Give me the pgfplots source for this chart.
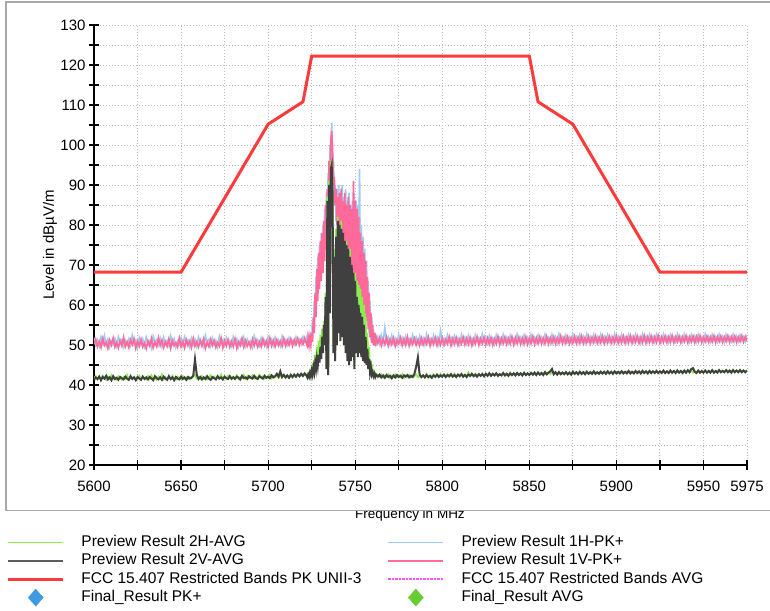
\documentclass[border=0pt]{standalone}
\usepackage{pgfplots}
\pgfplotsset{compat=1.18}
\usepackage{pgfplotstable}
\usepackage{fontspec}
\setmainfont{Liberation Sans}
\definecolor{cgreen}{HTML}{88F048}
\definecolor{cblack}{HTML}{404040}
\definecolor{cblue}{HTML}{9DCBF7}
\definecolor{cpink}{HTML}{FF6A9A}
\definecolor{cred}{HTML}{FF3A3A}
\definecolor{cmag}{HTML}{FF55FF}
\definecolor{dblue}{HTML}{3F9AE0}
\definecolor{dgreen}{HTML}{66CC33}
\definecolor{cgrid}{HTML}{BDBDBD}
\definecolor{cframe}{HTML}{A8A8A8}

\pgfplotstableread{
f g k b p
5600 41.6 41.3 51.8 50.2
5601 42.2 41.9 50.1 51.4
5602 41.4 41.5 51.2 49.6
5603 42.0 42.1 49.7 50.9
5604 41.5 41.2 51.9 49.4
5605 42.3 42.0 50.4 51.6
5606 41.7 41.6 52.3 49.9
5607 41.3 42.3 50.0 50.7
5608 42.1 41.4 51.4 49.2
5609 41.6 41.9 49.5 51.2
5610 42.4 41.2 51.0 50.0
5611 41.5 42.2 50.3 51.7
5612 41.9 41.5 51.6 49.5
5613 41.4 41.8 49.8 50.6
5614 42.2 41.3 52.0 49.3
5615 41.7 42.0 50.5 51.1
5616 41.3 41.7 51.3 49.8
5617 42.0 41.4 49.6 51.9
5618 41.6 42.1 51.1 49.6
5619 42.5 41.6 50.2 50.8
5620 41.4 41.3 51.5 49.4
5621 41.9 42.2 49.9 51.3
5622 41.6 41.5 52.4 50.1
5623 42.1 41.9 50.6 51.5
5624 41.3 41.2 51.2 49.2
5625 41.8 42.0 49.4 50.9
5626 42.3 41.6 51.7 49.7
5627 41.5 41.3 50.1 51.4
5628 42.0 42.1 51.4 49.5
5629 41.7 41.5 49.7 50.5
5630 41.4 41.9 51.9 49.1
5631 42.2 41.4 50.4 51.0
5632 41.6 42.0 51.0 49.8
5633 42.4 41.6 49.3 51.6
5634 41.5 41.2 52.1 49.3
5635 41.9 42.2 50.7 50.7
5636 41.3 41.7 51.3 49.6
5637 42.1 41.4 50.0 51.8
5638 41.7 41.9 51.6 49.9
5639 42.6 41.3 49.6 51.2
5640 41.4 42.1 51.8 49.4
5641 42.0 41.6 50.3 50.8
5642 41.6 41.3 51.1 49.7
5643 41.9 42.2 49.8 51.5
5644 41.5 41.5 52.2 49.2
5645 42.3 41.9 50.5 51.1
5646 41.7 41.2 51.5 49.8
5647 41.3 42.0 49.5 50.6
5648 42.1 41.6 51.0 49.5
5649 41.8 41.4 50.2 51.7
5650 41.5 42.1 51.7 49.6
5651 42.2 41.5 49.9 50.9
5652 41.6 41.9 52.0 49.3
5653 41.9 41.3 50.6 51.3
5654 41.4 42.0 51.2 49.9
5655 42.0 41.6 49.4 51.0
5656 41.7 41.8 51.6 49.4
5657 42.3 42.3 50.1 51.6
5658 42.5 46.4 51.3 49.7
5659 41.6 42.6 49.7 50.8
5660 41.9 41.5 51.9 49.5
5661 41.5 42.0 50.4 51.2
5662 42.2 41.4 51.0 49.8
5663 41.6 41.9 49.6 51.5
5664 42.0 41.5 52.3 49.2
5665 41.4 42.2 50.7 50.7
5666 41.9 41.6 51.4 49.6
5667 42.4 41.3 49.8 51.4
5668 41.6 42.0 51.7 49.9
5669 42.1 41.7 50.2 51.1
5670 41.5 41.4 51.1 49.4
5671 42.0 42.2 49.5 50.6
5672 41.7 41.6 52.1 49.7
5673 42.6 41.9 50.5 51.7
5674 41.5 41.4 51.3 49.3
5675 41.9 42.1 49.9 51.0
5676 41.6 41.7 51.8 49.8
5677 42.3 41.5 50.3 51.3
5678 41.8 42.2 51.0 49.5
5679 41.4 41.6 49.7 50.9
5680 42.1 41.9 52.0 49.6
5681 41.7 41.5 50.6 51.5
5682 42.4 42.1 51.5 49.2
5683 41.5 41.8 49.6 50.8
5684 42.0 41.4 51.2 49.9
5685 41.8 42.3 50.1 51.6
5686 42.5 41.7 51.9 49.5
5687 41.6 41.9 49.8 51.1
5688 42.2 41.5 51.4 49.7
5689 41.7 42.2 50.4 50.7
5690 41.9 41.8 51.0 49.4
5691 42.4 41.6 49.5 51.4
5692 41.6 42.3 52.2 49.8
5693 42.1 41.7 50.7 51.2
5694 41.8 41.5 51.3 49.5
5695 42.5 42.2 49.9 50.8
5696 41.7 41.9 51.7 49.6
5697 42.2 41.6 50.2 51.5
5698 41.6 42.3 51.1 49.9
5699 42.0 41.8 49.7 51.0
5700 41.8 42.1 52.0 49.5
5701 42.6 41.7 50.5 51.7
5702 41.7 42.4 51.4 49.8
5703 42.2 41.9 49.9 51.1
5704 41.9 42.2 51.8 49.6
5705 42.4 42.8 50.3 51.3
5706 41.8 42.1 51.2 49.9
5707 42.3 43.4 49.8 51.0
5708 41.9 42.0 52.1 49.7
5709 42.6 42.5 50.6 51.6
5710 41.8 41.9 51.3 49.8
5711 42.3 42.4 50.0 51.2
5712 41.9 41.8 51.7 50.0
5713 42.7 42.5 50.4 51.5
5714 41.9 42.0 51.1 49.8
5715 42.4 42.6 50.2 51.3
5716 42.0 42.1 51.9 50.1
5717 42.6 42.7 50.7 51.6
5718 42.1 42.2 51.4 50.0
5719 42.5 42.8 50.3 51.4
5720 42.2 42.3 52.0 50.2
5721 42.8 42.9 50.8 51.7
5722 42.3 42.4 51.5 50.3
5722.5 42.1 41.9 52.4 49.8
5723 42.8 42.6 50.2 51.8
5723.5 42.2 42.0 52.6 50.0
5724 43.3 43.0 50.5 52.0
5724.5 42.4 42.2 53.2 50.2
5725 44.0 43.6 51.0 52.8
5725.5 42.8 42.6 56 50.8
5726 45.5 44.5 53 57
5726.5 43.6 43.2 61 53
5727 47.5 45.5 57 63
5727.5 45 44.0 67 57
5728 49.5 46.5 61 69
5728.5 46.5 44.8 72 61
5729 51 47.5 64 73
5729.5 47.5 45.6 75 64
5730 52.5 49.5 66 76
5730.5 48.5 46.5 78 66
5731 54 52 68 78
5731.5 49.5 48 80 68
5732 56 55 71 81
5732.5 51 50 84 71
5733 63 62 75 85
5733.5 45 44 88 76
5734 87 86 81 89
5734.5 43 42.5 93 82
5735 91 90 87 96
5735.5 60 58 100 88
5736 95 94 92 101
5736.5 96.3 95 105.6 103.5
5737 89 88 91 99
5737.5 49 48 96 90
5738 74 72 85 92
5738.5 47 46 90 85
5739 79 77 81 89
5739.5 51 50 89 80
5740 82 81 77 87
5740.5 55 53 90 76
5741 75 80 75 88
5741.5 52 51 88 74
5742 81 79 76 89
5742.5 53 52 90 75
5743 77 78 73 86
5743.5 51 50 87 72
5744 74 76 74 88
5744.5 49 48 89 73
5745 76 75 71 85
5745.5 47 46 86 70
5746 72 74 72 87
5746.5 46 45 88 71
5747 74 72 70 85
5747.5 47 46 85 69
5748 69 70 69 84
5748.5 48 47 86 68
5749 67 68 68 91
5749.5 45 44 88 67
5750 68 66 67 86
5750.5 49 48 86 66
5751 66 62 66 84
5751.5 49 47 85 65
5752 65 60 64 82
5752.5 50 48 94 63
5753 64 58 63 78
5753.5 49 47 80 62
5754 62 57 61 76
5754.5 48 46 77 60
5755 60 55 59 73
5755.5 47 45.5 74 58
5756 57 52 57 71
5756.5 46 45 71 56
5757 53 49 55 67
5757.5 45 44 66 54
5758 49.5 46.5 53 63
5758.5 44 43.2 61 52
5759 46 44.5 51 58
5759.5 43 42.6 57 50.5
5760 44 43.2 50.5 55
5760.5 42.5 42.2 54 50
5761 43.2 42.8 50 53
5761.5 42.2 42.0 52.5 49.8
5762 42.8 42.6 50.3 52
5763 42.5 42.1 51.9 50.4
5764 42.0 42.6 50.3 51.8
5765 42.6 41.9 52.4 49.9
5766 41.9 42.4 50.6 51.5
5767 42.4 41.8 54.2 50.2
5768 42.1 42.5 50.8 51.9
5769 42.7 42.0 51.9 49.8
5770 41.8 42.3 50.2 51.4
5771 42.3 41.7 52.3 50.1
5772 42.0 42.4 50.5 51.7
5773 42.6 41.9 51.6 49.7
5774 41.9 42.5 50.1 51.3
5775 42.4 42.0 52.5 50.3
5776 42.1 42.3 50.7 51.8
5777 42.7 41.8 51.8 49.9
5778 41.8 42.4 50.3 51.5
5779 42.3 42.1 52.1 50.0
5780 42.0 42.5 50.6 52.0
5781 42.5 41.9 51.5 49.8
5782 41.9 42.3 50.2 51.4
5783 42.4 42.0 52.4 50.2
5784 42.2 42.8 50.8 51.6
5785 42.6 44.5 51.9 50.0
5786 42.0 46.9 50.4 51.3
5787 42.3 42.6 52.2 49.9
5788 41.9 42.0 50.5 51.7
5789 42.5 42.4 51.7 50.1
5790 42.1 41.9 50.1 51.5
5791 42.7 42.5 52.6 50.3
5792 41.8 42.0 50.7 51.9
5793 42.4 42.3 51.6 49.8
5794 42.0 41.8 50.3 51.4
5795 42.6 42.4 52.3 50.2
5796 41.9 42.1 50.6 51.8
5797 42.3 42.6 51.9 49.9
5798 42.1 42.0 50.2 51.5
5799 42.8 42.4 53.5 50.1
5800 42.0 42.1 50.8 51.7
5801 42.5 42.6 51.6 50.0
5802 42.2 42.0 50.4 51.4
5803 42.7 42.5 52.4 50.3
5804 42.0 42.2 50.7 52.0
5805 42.4 42.7 51.8 49.9
5806 42.2 42.1 50.3 51.6
5807 42.8 42.5 52.2 50.2
5808 42.1 42.0 50.5 51.8
5809 42.5 42.6 51.7 50.0
5810 42.2 42.2 50.2 51.4
5811 42.8 42.7 52.5 50.3
5812 42.0 42.1 50.8 51.9
5813 42.6 42.5 51.9 50.1
5814 42.3 42.0 50.4 51.6
5815 43.1 42.6 52.3 50.2
5816 42.2 42.3 50.6 51.8
5817 42.6 42.8 51.6 49.9
5818 42.3 42.2 50.3 51.5
5819 42.8 42.6 52.4 50.3
5820 42.1 42.1 50.9 52.0
5821 42.6 42.7 51.8 50.0
5822 42.4 42.3 50.5 51.6
5823 42.9 42.7 52.6 50.4
5824 42.2 42.2 50.7 51.9
5825 42.7 42.8 51.9 50.1
5826 42.4 42.3 50.4 51.7
5827 43.0 42.9 52.2 50.2
5828 42.3 42.3 50.6 51.8
5829 42.7 42.8 51.7 50.0
5830 42.5 42.4 50.3 51.5
5831 42.9 42.9 52.4 50.3
5832 42.3 42.3 50.8 52.1
5833 42.7 42.7 51.8 50.1
5834 42.5 42.4 50.5 51.7
5835 43.0 43.0 52.5 50.4
5836 42.4 42.4 50.7 51.9
5837 42.8 42.8 51.9 50.2
5838 42.5 42.3 50.4 51.6
5839 43.1 42.9 52.3 50.3
5840 42.4 42.5 50.9 52.0
5841 42.9 42.9 51.7 50.1
5842 42.6 42.4 50.6 51.8
5843 43.0 43.0 52.6 50.4
5844 42.5 42.5 50.8 51.9
5845 42.9 42.9 51.9 50.2
5846 42.6 42.4 50.5 51.7
5847 43.2 43.0 52.4 50.3
5848 42.5 42.5 50.7 52.0
5849 42.9 42.9 51.8 50.2
5850 42.6 42.5 50.4 51.7
5851 43.1 43.0 52.5 50.4
5852 42.5 42.6 50.9 52.1
5853 42.9 43.1 51.8 50.2
5854 42.7 42.5 50.6 51.8
5855 43.2 43.1 52.4 50.4
5856 42.6 42.6 50.8 52.0
5857 43.0 43.0 51.9 50.3
5858 42.7 42.5 50.5 51.7
5859 43.3 43.2 52.6 50.4
5860 42.6 42.7 50.9 52.1
5861 43.0 43.1 51.8 50.3
5862 42.8 43.4 50.6 51.8
5863 43.2 44.0 52.5 50.5
5864 42.7 42.7 50.8 52.0
5865 43.1 43.2 52.0 50.3
5866 42.8 42.6 50.5 51.8
5867 43.3 43.2 52.7 50.5
5868 42.7 42.7 50.9 52.2
5869 43.1 43.1 51.9 50.4
5870 42.8 42.7 50.6 51.9
5871 43.2 43.2 52.4 50.5
5872 42.6 42.7 50.8 52.0
5873 43.1 43.1 51.9 50.3
5874 42.8 42.6 50.5 51.8
5875 43.4 43.3 52.6 50.5
5876 42.7 42.8 51.0 52.1
5877 43.1 43.2 52.0 50.4
5878 42.9 42.7 50.6 51.9
5879 43.3 43.3 52.5 50.5
5880 42.7 42.8 50.9 52.2
5881 43.2 43.2 52.1 50.4
5882 42.9 42.7 50.5 51.8
5883 43.4 43.3 52.7 50.6
5884 42.8 42.8 51.0 52.1
5885 43.2 43.2 52.0 50.4
5886 42.9 42.8 50.7 51.9
5887 43.3 43.4 52.5 50.6
5888 42.8 42.8 50.9 52.2
5889 43.2 43.2 52.0 50.5
5890 42.9 42.8 50.6 51.9
5891 43.4 43.3 52.6 50.6
5892 42.8 42.9 51.0 52.2
5893 43.2 43.3 52.1 50.4
5894 43.0 42.8 50.7 51.9
5895 43.5 43.4 52.5 50.6
5896 42.8 42.9 50.9 52.1
5897 43.3 43.3 52.0 50.5
5898 43.0 42.8 50.6 51.9
5899 43.4 43.4 52.7 50.6
5900 42.9 42.9 51.0 52.2
5901 43.3 43.3 52.1 50.5
5902 43.0 42.9 50.7 51.9
5903 43.5 43.4 52.6 50.6
5904 42.9 42.9 50.9 52.2
5905 43.3 43.3 52.0 50.5
5906 43.0 42.9 50.6 52.0
5907 43.5 43.5 52.5 50.6
5908 42.9 42.9 51.0 52.3
5909 43.3 43.3 52.1 50.5
5910 43.1 42.9 50.7 52.0
5911 43.4 43.5 52.6 50.7
5912 42.9 43.0 51.0 52.2
5913 43.3 43.4 52.0 50.5
5914 43.1 42.9 50.6 51.9
5915 43.6 43.5 52.7 50.6
5916 43.0 43.0 51.1 52.3
5917 43.4 43.4 52.1 50.5
5918 43.1 42.9 50.7 52.0
5919 43.5 43.5 52.5 50.7
5920 43.0 43.0 50.9 52.2
5921 43.4 43.4 52.1 50.6
5922 43.1 43.0 50.7 52.0
5923 43.6 43.5 52.6 50.7
5924 43.0 43.0 51.1 52.3
5925 43.4 43.4 52.0 50.5
5926 43.1 43.0 50.8 52.0
5927 43.5 43.6 52.6 50.7
5928 43.0 43.0 51.0 52.2
5929 43.4 43.4 52.1 50.6
5930 43.2 43.0 50.7 52.0
5931 43.6 43.6 52.5 50.7
5932 43.0 43.1 51.1 52.3
5933 43.4 43.5 52.0 50.6
5934 43.2 43.0 50.8 52.0
5935 43.7 43.6 52.7 50.8
5936 43.1 43.1 51.0 52.2
5937 43.5 43.5 52.1 50.6
5938 43.2 43.0 50.8 52.0
5939 43.6 43.6 52.6 50.8
5940 43.0 43.1 51.1 52.3
5941 43.5 43.7 52.0 50.6
5942 43.2 43.2 50.7 52.0
5943 43.7 44.0 52.5 50.8
5944 43.1 44.2 51.0 52.2
5945 43.5 43.3 52.2 50.6
5946 43.2 43.0 50.8 52.1
5947 43.6 43.6 52.6 50.8
5948 43.1 43.1 51.1 52.3
5949 43.5 43.5 52.0 50.6
5950 43.2 43.1 50.8 52.0
5951 43.7 43.6 52.7 50.8
5952 43.1 43.1 51.0 52.2
5953 43.5 43.5 52.1 50.7
5954 43.3 43.1 50.8 52.0
5955 43.7 43.7 52.5 50.8
5956 43.1 43.1 51.1 52.3
5957 43.5 43.5 52.0 50.7
5958 43.3 43.1 50.8 52.1
5959 43.8 43.7 52.6 50.9
5960 43.2 43.2 51.0 52.2
5961 43.6 43.5 52.1 50.7
5962 43.3 43.2 50.8 52.0
5963 43.7 43.7 52.5 50.9
5964 43.2 43.2 51.1 52.3
5965 43.6 43.6 52.0 50.7
5966 43.3 43.1 50.9 52.1
5967 43.8 43.7 52.6 50.9
5968 43.2 43.2 51.0 52.2
5969 43.6 43.6 52.2 50.7
5970 43.3 43.2 50.9 52.0
5971 43.8 43.7 52.5 50.9
5972 43.2 43.2 51.1 52.3
5973 43.6 43.6 52.0 50.8
5974 43.3 43.2 50.9 52.1
5975 43.7 43.6 52.4 50.9
}\spectrum

\pgfplotstableread{
f lim
5600 68.2
5650 68.2
5700 105.2
5720 110.8
5725 122.2
5850 122.2
5855 110.8
5875 105.2
5925 68.2
5975 68.2
}\limitpk

\begin{document}
\begin{tikzpicture}
\useasboundingbox (-94bp,-146bp) rectangle (676bp,465bp);
% x label (partly hidden behind the panel, as in the reference)
\node[anchor=base, font=\fontsize{13.5bp}{16bp}\selectfont, inner sep=0pt] at (316bp,-53.5bp) {Frequency in MHz};
\fill[white] (-88bp,-45.7bp) rectangle (676bp,463bp);
\draw[cframe, line width=1.5bp] (676bp,-45.7bp) -- (-88bp,-45.7bp) -- (-88bp,463bp) -- (676bp,463bp);
\begin{axis}[
  at={(0bp,0bp)}, anchor=south west,
  scale only axis, width=653bp, height=440bp,
  xmin=5600, xmax=5975, ymin=20, ymax=130,
  axis x line=bottom, axis y line=left,
  axis line style={-, line width=1.2bp, black},
  tick align=center, major tick length=10bp,
  tick style={black, line width=1.2bp},
  xtick={5600,5625,...,5975},
  xticklabels={5600,,5650,,5700,,5750,,5800,,5850,,5900,,5950,5975},
  ytick={20,25,...,130},
  yticklabels={20,,30,,40,,50,,60,,70,,80,,90,,100,,110,,120,,130},
  ticklabel style={font=\fontsize{15bp}{18bp}\selectfont},
  xticklabel style={yshift=-8bp},
  /pgf/number format/assume math mode=true,
  grid=major,
  grid style={cgrid, line width=0.9bp, dash pattern=on 1bp off 2bp},
  ylabel={Level in dBµV/m},
  ylabel style={font=\fontsize{15bp}{17bp}\selectfont, at={(axis description cs:-0.0674,0.5)}, anchor=center},
  legend columns=2,
  legend style={at={(axis description cs:-0.13323,-0.1601)}, anchor=north west,
    draw=none, fill=none, inner sep=0pt, outer sep=0pt,
    /tikz/row sep=3.8bp, /tikz/column sep=0pt,
    font=\fontsize{15.5bp}{18bp}\selectfont,
    nodes={inner sep=0pt, text height=11bp, text depth=3.5bp, anchor=west}},
  legend cell align=left,
]
\addplot[cblue, line width=1.7bp, forget plot] table[x=f, y=b] {\spectrum};
\addplot[cpink, line width=1.7bp, forget plot] table[x=f, y=p] {\spectrum};
\addplot[cgreen, line width=1.8bp, forget plot] table[x=f, y=g] {\spectrum};
\addplot[cblack, line width=2bp, forget plot] table[x=f, y=k] {\spectrum};
\addplot[cred, line width=3bp, forget plot] table[x=f, y=lim] {\limitpk};

\addlegendimage{legend image code/.code={\draw[cgreen, line width=1.2bp] (0bp,0bp) -- (55bp,0bp); \path (73bp,0bp);}}
\addlegendentry{\makebox[306bp][l]{Preview Result 2H-AVG}}
\addlegendimage{legend image code/.code={\draw[cblue, line width=1.5bp] (0bp,0bp) -- (55bp,0bp); \path (73bp,0bp);}}
\addlegendentry{Preview Result 1H-PK+}
\addlegendimage{legend image code/.code={\draw[cblack!85, line width=1.2bp] (0bp,0bp) -- (55bp,0bp); \path (73bp,0bp);}}
\addlegendentry{\makebox[306bp][l]{Preview Result 2V-AVG}}
\addlegendimage{legend image code/.code={\draw[cpink, line width=1.5bp] (0bp,0bp) -- (55bp,0bp); \path (73bp,0bp);}}
\addlegendentry{Preview Result 1V-PK+}
\addlegendimage{legend image code/.code={\draw[cred, line width=2.5bp] (0bp,0bp) -- (55bp,0bp); \path (73bp,0bp);}}
\addlegendentry{\makebox[306bp][l]{FCC 15.407 Restricted Bands PK UNII-3}}
\addlegendimage{legend image code/.code={\draw[cmag, line width=1.8bp, dash pattern=on 2.5bp off 1bp] (0bp,0bp) -- (55bp,0bp); \path (73bp,0bp);}}
\addlegendentry{FCC 15.407 Restricted Bands AVG}
\addlegendimage{legend image code/.code={\fill[dblue, overlay] (27.5bp,8.5bp) -- (35bp,0bp) -- (27.5bp,-8.5bp) -- (20bp,0bp) -- cycle; \path (0bp,0bp) (73bp,0bp);}}
\addlegendentry{\makebox[306bp][l]{Final\_Result PK+}}
\addlegendimage{legend image code/.code={\fill[dgreen, overlay] (27.5bp,8.5bp) -- (35bp,0bp) -- (27.5bp,-8.5bp) -- (20bp,0bp) -- cycle; \path (0bp,0bp) (73bp,0bp);}}
\addlegendentry{Final\_Result AVG}
\end{axis}
\end{tikzpicture}
\end{document}
